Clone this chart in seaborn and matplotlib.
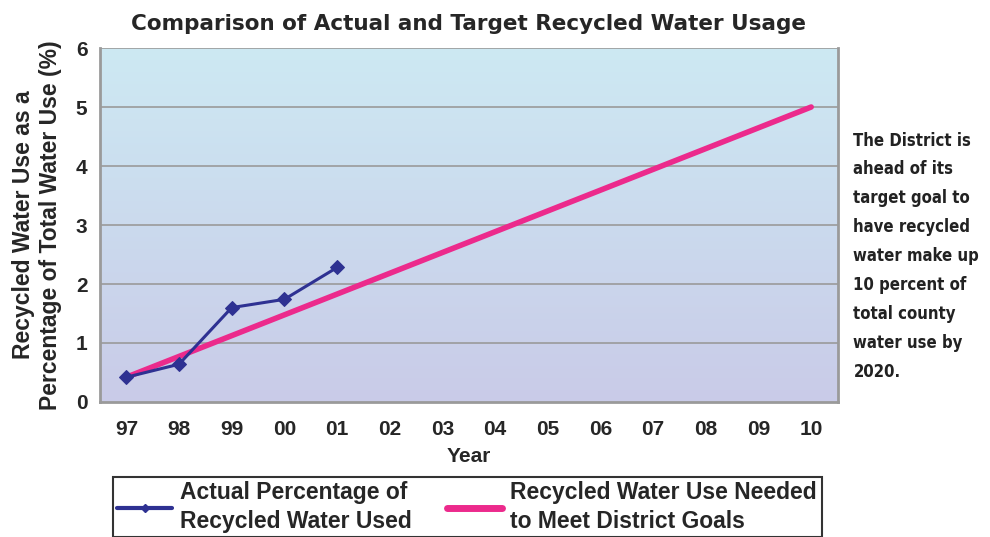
import numpy as np
import pandas as pd
import matplotlib.pyplot as plt
import seaborn as sns
from matplotlib.lines import Line2D
from matplotlib.colors import LinearSegmentedColormap

# data
years = ["97", "98", "99", "00", "01", "02", "03", "04", "05", "06", "07", "08", "09", "10"]
actual_years = ["97", "98", "99", "00", "01"]
actual_values = [0.42, 0.64, 1.60, 1.74, 2.28]
target_years = ["97", "10"]
target_values = [0.42, 5.0]

navy = "#2e3192"
pink = "#ec2a8c"

sns.set_style("white")
plt.rcParams['font.family'] = ['Liberation Sans', 'DejaVu Sans']

pos = {y: i for i, y in enumerate(years)}
actual = pd.DataFrame({'x': [pos[y] for y in actual_years], 'value': actual_values})
target = pd.DataFrame({'x': [pos[y] for y in target_years], 'value': target_values})

fig = plt.figure(figsize=(9.9, 5.37), dpi=100)
ax = fig.add_axes([0.101, 0.2514, 0.745, 0.6592])

# gradient background
grad = np.linspace(0, 1, 256).reshape(-1, 1)
bg = LinearSegmentedColormap.from_list('bg', ['#c9cbe8', '#cde9f3'])
ax.imshow(grad, aspect='auto', cmap=bg, origin='lower',
          extent=[-0.5, 13.5, 0, 6], zorder=0)

for yv in range(1, 7):
    ax.axhline(yv, color='#9a9a9a', lw=1.2, zorder=1)

sns.lineplot(data=target, x='x', y='value', color=pink, lw=4, ax=ax, zorder=3)
sns.lineplot(data=actual, x='x', y='value', color=navy, lw=2.2, marker='D',
             markersize=7, markeredgecolor=navy, ax=ax, zorder=4)

ax.set_xlim(-0.5, 13.5)
ax.set_ylim(0, 6)
ax.set_xticks(range(len(years)))
ax.set_xticklabels(years)
ax.set_yticks(range(0, 7))
ax.tick_params(axis='both', labelsize=15, length=5, color='#9a9a9a', direction='out', pad=4)
ax.tick_params(axis='x', pad=8)
for lab in ax.get_xticklabels() + ax.get_yticklabels():
    lab.set_fontweight('bold')
for side in ['left', 'bottom', 'right']:
    ax.spines[side].set_color('#9a9a9a')
    ax.spines[side].set_linewidth(2)
ax.spines['top'].set_visible(False)

ax.set_xlabel('Year', fontsize=15, fontweight='bold', labelpad=6)
ax.set_ylabel('Recycled Water Use as a\nPercentage of Total Water Use (%)',
              fontsize=16.5, fontweight='bold', labelpad=10, linespacing=1.2)
ax.set_title('Comparison of Actual and Target Recycled Water Usage',
             fontsize=15.5, fontweight='bold', pad=13, family=['DejaVu Sans'])

fig.text(0.862, 0.755,
         'The District is\nahead of its\ntarget goal to\nhave recycled\nwater make up\n10 percent of\ntotal county\nwater use by\n2020.',
         fontsize=12, fontweight='bold', fontstretch='condensed', va='top', ha='left',
         linespacing=1.78, family=['DejaVu Sans'], color='#222222')

handles = [
    Line2D([], [], color=navy, lw=3, marker='D', markersize=4),
    Line2D([], [], color=pink, lw=5),
]
labels = ['Actual Percentage of\nRecycled Water Used',
          'Recycled Water Use Needed\nto Meet District Goals']
leg = fig.legend(handles, labels, ncol=2, loc='upper left',
                 bbox_to_anchor=(0.114, 0.112, 0.716, 0.0), mode='expand',
                 borderaxespad=0, frameon=True, fancybox=False,
                 prop={'size': 16.5, 'weight': 'bold'}, handlelength=2.4,
                 handletextpad=0.35, columnspacing=0.8, borderpad=0.2)
for t in leg.get_texts():
    t.set_linespacing(1.3)
leg.get_frame().set_edgecolor('black')
leg.get_frame().set_linewidth(1.5)

plt.savefig('out.png', dpi=100)
